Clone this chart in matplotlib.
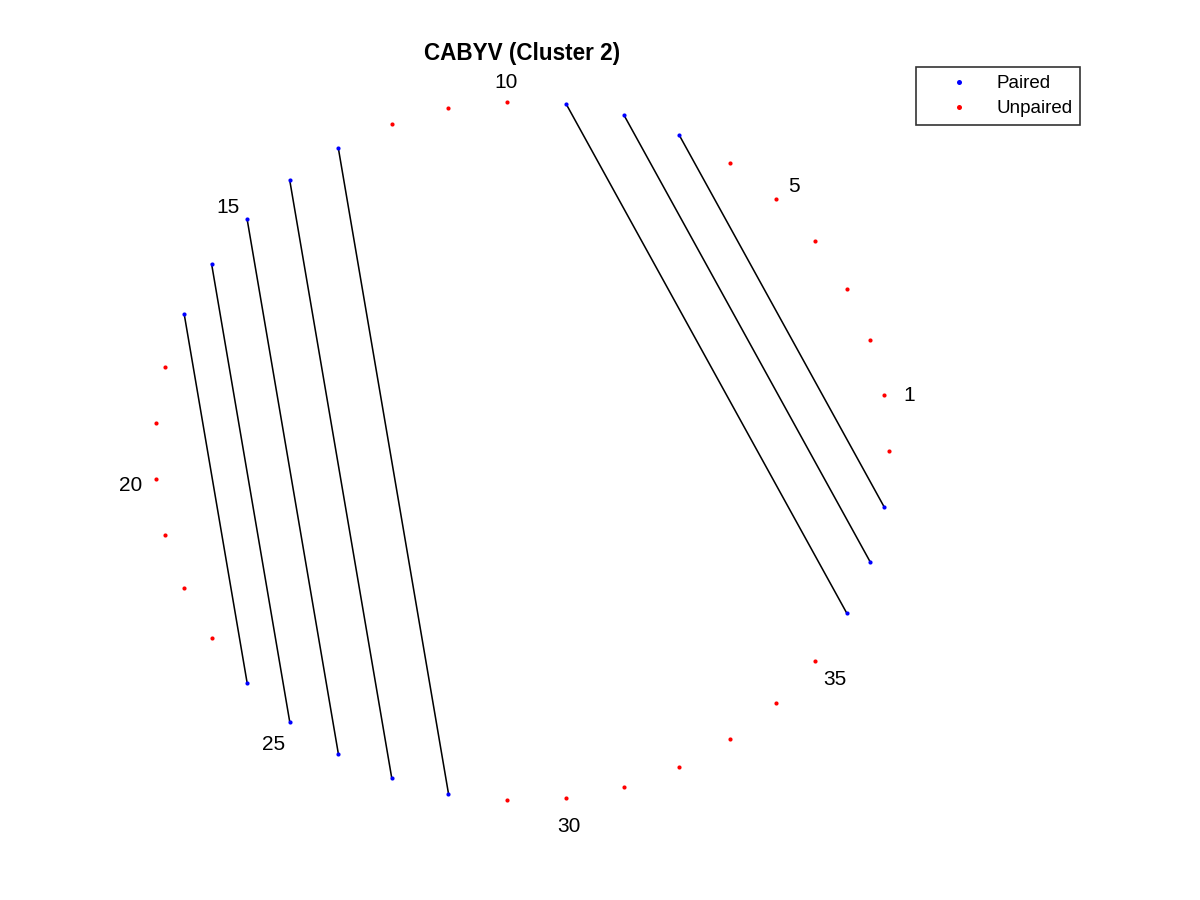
import numpy as np
import matplotlib
matplotlib.use("Agg")
import matplotlib.pyplot as plt

plt.rcParams["font.family"] = ["Liberation Sans", "DejaVu Sans"]

# ── data ───────────────────────────────────────────────────────────────────────
TITLE = "CABYV (Cluster 2)"
N_POS = 39
PAIR_I = [7, 8, 9, 13, 14, 15, 16, 17]
PAIR_J = [38, 37, 36, 28, 27, 26, 25, 24]
LABEL_POS = [1, 5, 10, 15, 20, 25, 30, 35]

pos = np.arange(1, N_POS + 1)
theta = 2 * np.pi * pos / N_POS
xs = np.cos(theta)
ys = np.sin(theta)

paired = set(PAIR_I) | set(PAIR_J)
is_paired = np.array([p in paired for p in pos])

# ── canvas ─────────────────────────────────────────────────────────────────────
fig = plt.figure(figsize=(8, 6), dpi=150)
fig.patch.set_facecolor("white")
ax = fig.add_axes([0, 0, 1, 1])
ax.set_xlim(-1.4217, 1.8472)
ax.set_ylim(-1.2843, 1.2901)
ax.axis("off")

# pair lines
for i, j in zip(PAIR_I, PAIR_J):
    ax.plot([xs[i - 1], xs[j - 1]], [ys[i - 1], ys[j - 1]],
            color="black", lw=0.75, zorder=2)

ax.plot(xs[is_paired], ys[is_paired], "o", color="blue", ms=2.0,
        mec="none", zorder=3, label="Paired")
ax.plot(xs[~is_paired], ys[~is_paired], "o", color="red", ms=2.0,
        mec="none", zorder=3, label="Unpaired")

# position labels (slightly below centre, like the original text placement)
for p in LABEL_POS:
    t = 2 * np.pi * p / N_POS
    ax.text(1.068 * np.cos(t), 1.068 * np.sin(t) - 0.013, str(p),
            ha="center", va="center", fontsize=10)

ax.text(0, 1.138, TITLE, ha="center", va="center",
        fontsize=10.8, fontweight="bold")

leg = ax.legend(loc="upper left", bbox_to_anchor=(915.7 / 1200, 1 - 67.3 / 900),
                bbox_transform=fig.transFigure, fontsize=9, frameon=True,
                fancybox=False, borderpad=0.42, handlelength=3.75,
                handletextpad=0.12, labelspacing=0.42, borderaxespad=0,
                markerscale=1.2)
leg.get_frame().set_edgecolor("black")
leg.get_frame().set_linewidth(0.8)

fig.savefig("out.png", dpi=150, facecolor="white")
